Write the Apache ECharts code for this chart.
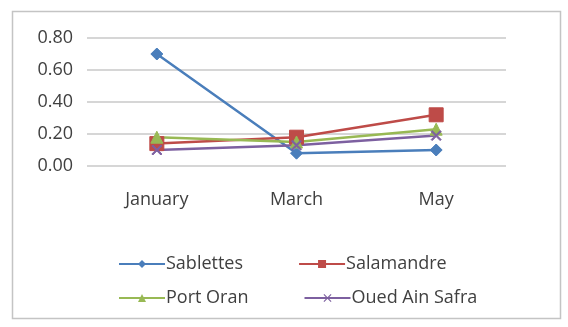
<!DOCTYPE html>
<html>
<head>
<meta charset="utf-8">
<script src="https://cdn.jsdelivr.net/npm/echarts@6/dist/echarts.min.js"></script>
<style>
html,body{margin:0;padding:0;background:#fff;}
#main{width:568px;height:327px;}
</style>
</head>
<body>
<div id="main"></div>
<script>
// data
var months = ['January', 'March', 'May'];
var sablettes = [0.70, 0.08, 0.10];
var salamandre = [0.14, 0.18, 0.32];
var portOran = [0.18, 0.15, 0.23];
var ouedAinSafra = [0.10, 0.13, 0.19];
var seriesNames = ['Sablettes', 'Salamandre', 'Port Oran', 'Oued Ain Safra'];

var colors = ['#4A7EBB', '#BE4B48', '#98B954', '#7D60A0'];
var fontFam = 'Open Sans, Liberation Sans, sans-serif';

function mkLine(name, data, color, symbol, size) {
	return {
		name: name,
		type: 'line',
		data: data,
		symbol: symbol,
		symbolSize: size,
		lineStyle: { color: color, width: 2.5 },
		itemStyle: { color: color, borderColor: color },
		emphasis: { disabled: true }
	};
}

function mkLegend(names, top) {
	return {
		data: names,
		left: 113, top: top,
		itemWidth: 46, itemHeight: 10, itemGap: 55,
		textStyle: { fontSize: 18, color: '#404040', width: 82, padding: [0, 0, 0, -4] }
	};
}

var myChart = echarts.init(document.getElementById('main'));
var option = {
	animation: false,
	color: colors,
	textStyle: { fontFamily: fontFam },
	graphic: [{
		type: 'rect',
		shape: { x: 12.5, y: 11.5, width: 548, height: 307 },
		style: { fill: 'none', stroke: '#c4c4c4', lineWidth: 1.5 },
		silent: true
	}],
	grid: { left: 87, right: 62, top: 38, bottom: 161 },
	legend: [
		mkLegend([seriesNames[0], seriesNames[1]], 250),
		mkLegend([seriesNames[2], seriesNames[3]], 284)
	],
	xAxis: {
		type: 'category',
		data: months,
		boundaryGap: true,
		axisLine: { show: false },
		axisTick: { show: false },
		axisLabel: { fontSize: 18, color: '#404040', margin: 25 }
	},
	yAxis: {
		type: 'value',
		min: 0, max: 0.8, interval: 0.2,
		axisLine: { show: false },
		axisTick: { show: false },
		axisLabel: {
			fontSize: 18, color: '#404040', margin: 14,
			formatter: function (v) { return v.toFixed(2); }
		},
		splitLine: { lineStyle: { color: '#c8c8c8', width: 1.5 } }
	},
	series: [
		mkLine(seriesNames[0], sablettes, colors[0], 'diamond', 12),
		mkLine(seriesNames[1], salamandre, colors[1], 'rect', 14),
		mkLine(seriesNames[2], portOran, colors[2], 'triangle', 12),
		mkLine(seriesNames[3], ouedAinSafra, colors[3], 'path://M1,0L5,4L9,0L10,1L6,5L10,9L9,10L5,6L1,10L0,9L4,5L0,1Z', 10)
	]
};
myChart.setOption(option, true);
</script>
</body>
</html>
